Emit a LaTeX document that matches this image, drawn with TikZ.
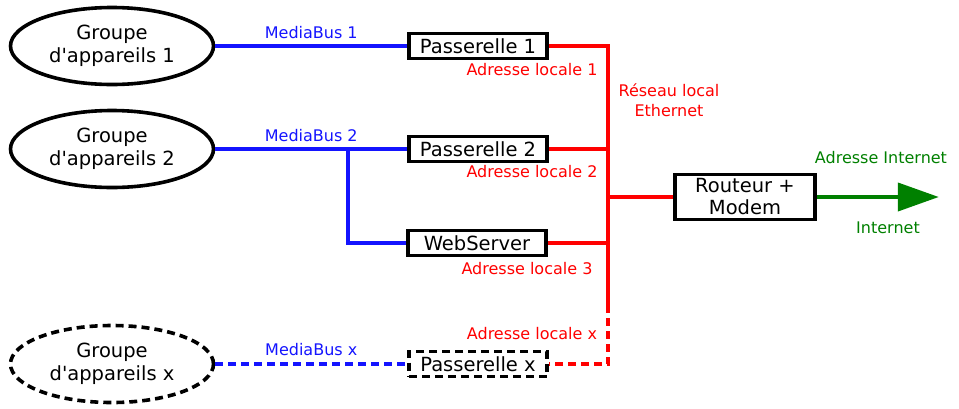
\documentclass[tikz,border=0pt]{standalone}
\usepackage{fontspec}
\setmainfont{DejaVu Sans}
\usetikzlibrary{arrows.meta,shapes.geometric}
\definecolor{busblue}{RGB}{20,20,255}
\definecolor{lanred}{RGB}{255,0,0}
\definecolor{netgreen}{RGB}{0,128,0}

\begin{document}
\begin{tikzpicture}[x=1pt, y=-1pt,
  grp/.style={ellipse, draw=black, line width=3.6pt, minimum width=203pt, minimum height=77pt, inner sep=0pt, align=center, font=\fontsize{19.5}{23}\selectfont},
  gw/.style={draw=black, line width=3.6pt, minimum width=138pt, minimum height=25pt, inner sep=0pt, align=center, font=\fontsize{19.5}{22}\selectfont},
  opt/.style={dash pattern=on 8pt off 5pt},
  bus/.style={draw=busblue, line width=3.6pt},
  lan/.style={draw=lanred, line width=3.6pt},
  lbl/.style={font=\fontsize{16}{20}\selectfont, inner sep=0pt, align=center}
]
\useasboundingbox (0,0) rectangle (959,408);

% groupes d'appareils
\node[grp] (g1) at (112,46) {Groupe\\d\textquotesingle appareils 1};
\node[grp] (g2) at (112,149) {Groupe\\d\textquotesingle appareils 2};
\node[grp, opt] (gx) at (112,364) {Groupe\\d\textquotesingle appareils x};

% passerelles
\node[gw] (gw1) at (478,46) {Passerelle 1};
\node[gw] (gw2) at (478,149) {Passerelle 2};
\node[gw] (ws) at (477,243) {WebServer};
\node[gw, opt] (gwx) at (478,364) {Passerelle x};
\node[gw, minimum width=140pt, minimum height=45pt] (router) at (745,197) {Routeur +\\Modem};

% bus
\draw[bus] (g1.east) -- node[lbl, text=busblue, above=5pt] {MediaBus 1} (gw1.west);
\draw[bus] (g2.east) -- node[lbl, text=busblue, above=5pt] {MediaBus 2} (gw2.west);
\coordinate (split) at (348,149);
\draw[bus] (split) |- (ws.west);
\draw[bus, opt] (gx.east) -- node[lbl, text=busblue, above=6pt] {MediaBus x} (gwx.west);

% reseau local
\coordinate (lan) at (608,305);
\draw[lan] (gw1.east) -| (lan);
\draw[lan] (gw2.east) -- (gw2.east -| lan);
\draw[lan] (ws.east) -- (ws.east -| lan);
\draw[lan] (router.west -| lan) -- (router.west);
\draw[lan, opt] (lan) |- (gwx.east);

\node[lbl, text=lanred] (ad1) at (532,70) {Adresse locale 1};
\node[lbl, text=lanred] (ad2) at (532,172) {Adresse locale 2};
\node[lbl, text=lanred] (ad3) at (527,269) {Adresse locale 3};
\node[lbl, text=lanred] (adx) at (532,334) {Adresse locale x};
\node[lbl, text=lanred] (eth) at (669,100) {Réseau local\\Ethernet};

% internet
\draw[netgreen, line width=4pt, -{Triangle[length=41pt, width=28pt]}] (router.east) -- ++(122,0) coordinate (net);
\node[lbl, text=netgreen] (adnet) at (881,158) {Adresse Internet};
\node[lbl, text=netgreen] (inet) at (888,228) {Internet};
\end{tikzpicture}
\end{document}
